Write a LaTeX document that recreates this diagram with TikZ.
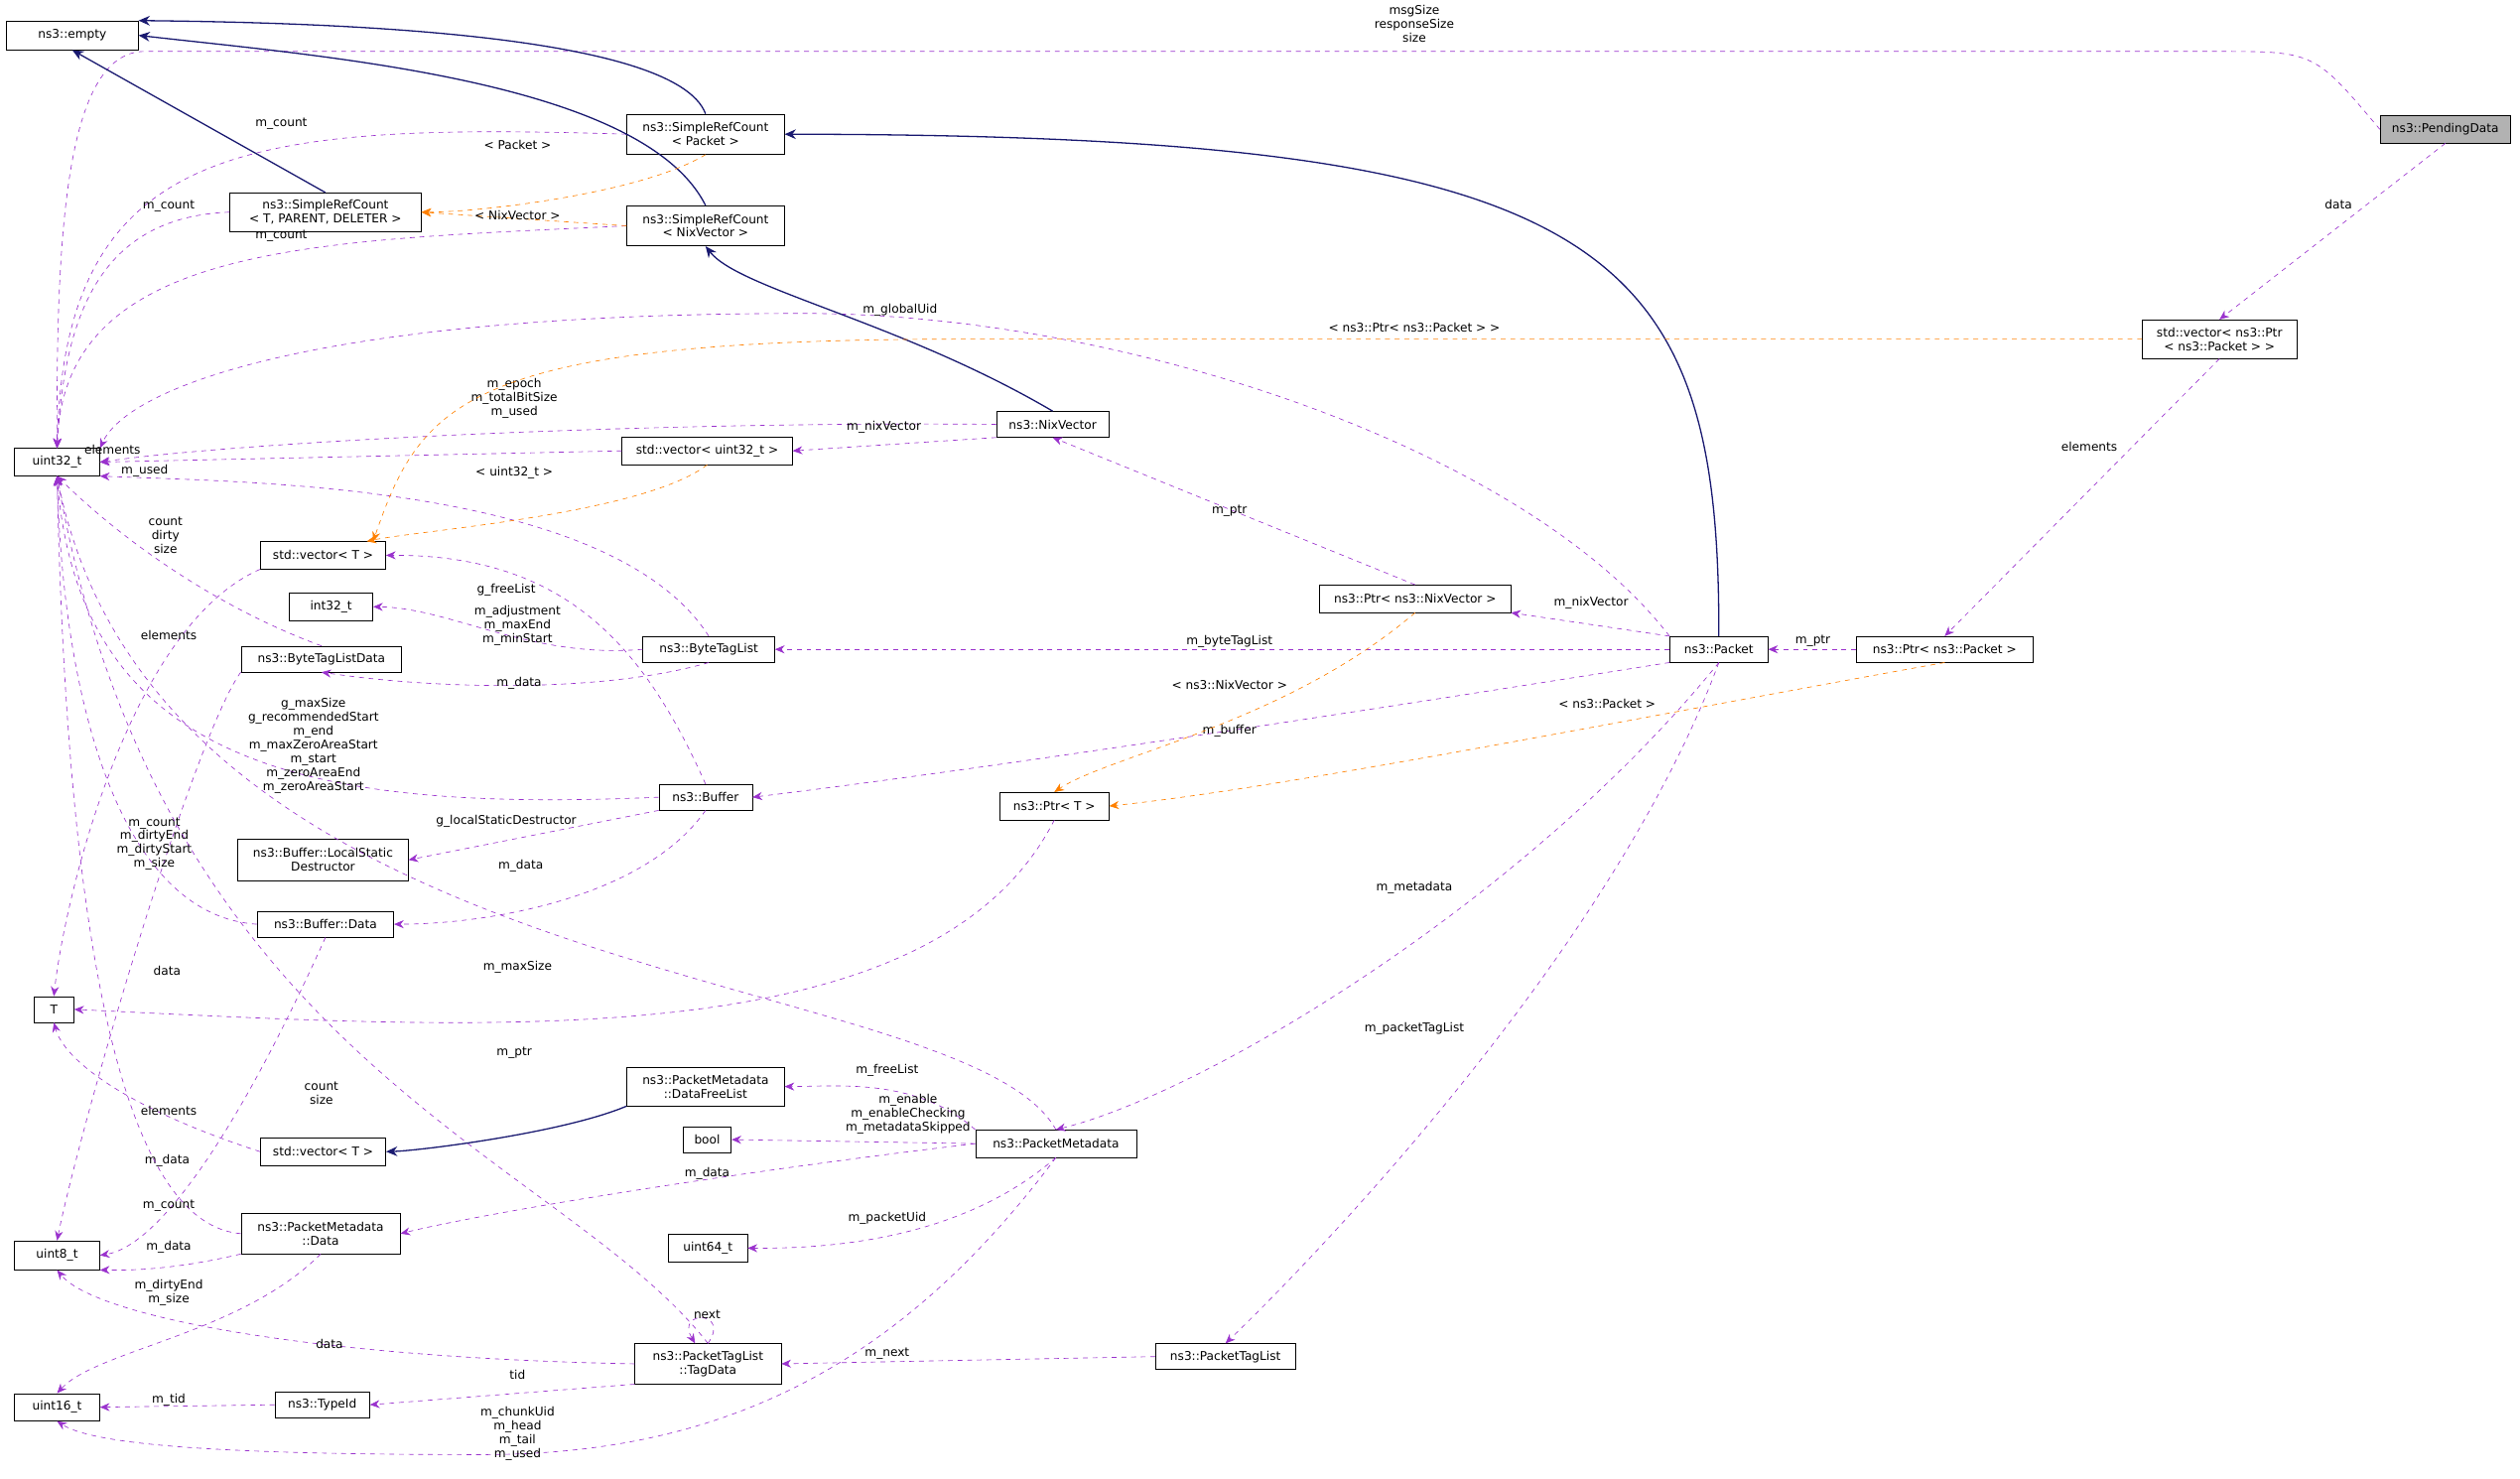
\documentclass[tikz,border=0pt]{standalone}
\usepackage{fontspec}
\setmainfont{DejaVu Sans}
\usetikzlibrary{arrows.meta}
\begin{document}
\begin{tikzpicture}[x=1pt,y=-1pt,
 box/.style={draw,rectangle,inner sep=1pt,align=center,font=\fontsize{7.5}{8.6}\selectfont},
 lbl/.style={inner sep=0pt,align=center,font=\fontsize{7.5}{8.6}\selectfont},
 mem/.style={draw={rgb,255:red,154;green,50;blue,205},dashed,-{Stealth[length=6pt,width=5pt]}},
 inh/.style={draw={rgb,255:red,25;green,25;blue,112},thick,-{Stealth[length=7pt,width=6pt]}},
 tpl/.style={draw=orange,dashed,-{Stealth[length=6pt,width=5pt]}}]
\useasboundingbox (0,0) rectangle (1568,920);
\newcommand{\bx}[6]{\node[box,minimum width=#3-#2,minimum height=#5-#4] (#1) at ({(#2+#3)/2},{(#4+#5)/2}) {#6};}
\bx{empty}{4}{86}{13}{31}{ns3::empty}
\bx{u32}{9}{62}{279}{296}{uint32\_t}
\bx{i32}{180}{232}{369}{386}{int32\_t}
\bx{u8}{9}{62}{772}{790}{uint8\_t}
\bx{u16}{9}{62}{867}{884}{uint16\_t}
\bx{T}{21}{46}{620}{636}{T}
\node[box,fill=gray!60,minimum width=81,minimum height=17] (pd) at (1521.5,80.5) {ns3::PendingData};
\bx{srcp}{390}{488}{71}{96}{ns3::SimpleRefCount\\< Packet >}
\bx{srct}{143}{262}{120}{144}{ns3::SimpleRefCount\\< T, PARENT, DELETER >}
\bx{srcn}{390}{488}{128}{153}{ns3::SimpleRefCount\\< NixVector >}
\bx{vecpp}{1333}{1429}{199}{223}{std::vector< ns3::Ptr\\< ns3::Packet > >}
\bx{nix}{620}{690}{256}{272}{ns3::NixVector}
\bx{vecu}{387}{493}{272}{289}{std::vector< uint32\_t >}
\bx{vect}{162}{240}{337}{354}{std::vector< T >}
\bx{btld}{150}{250}{402}{418}{ns3::ByteTagListData}
\bx{btl}{400}{482}{396}{412}{ns3::ByteTagList}
\bx{pnix}{821}{940}{364}{381}{ns3::Ptr< ns3::NixVector >}
\bx{pkt}{1039}{1100}{396}{412}{ns3::Packet}
\bx{ppkt}{1155}{1265}{396}{412}{ns3::Ptr< ns3::Packet >}
\bx{buf}{410}{468}{488}{504}{ns3::Buffer}
\bx{pt}{622}{690}{493}{510}{ns3::Ptr< T >}
\bx{lsd}{148}{254}{522}{548}{ns3::Buffer::LocalStatic\\Destructor}
\bx{bufd}{160}{245}{567}{583}{ns3::Buffer::Data}
\bx{dfl}{390}{488}{664}{688}{ns3::PacketMetadata\\::DataFreeList}
\bx{bool}{425}{455}{701}{717}{bool}
\bx{pm}{607}{707}{703}{720}{ns3::PacketMetadata}
\bx{vect2}{162}{240}{708}{725}{std::vector< T >}
\bx{pmd}{150}{249}{755}{780}{ns3::PacketMetadata\\::Data}
\bx{u64}{416}{465}{768}{785}{uint64\_t}
\bx{ptl}{719}{806}{836}{852}{ns3::PacketTagList}
\bx{td}{395}{486}{836}{861}{ns3::PacketTagList\\::TagData}
\bx{tid}{171}{230}{866}{882}{ns3::TypeId}
% purple
\draw[mem] (pd.west) .. controls (1440,32) .. (1380,32) -- (90,32) .. controls (40,32) and (35,150) .. (u32.north);
\node[lbl] (l1) at (880,15) {msgSize\\responseSize\\size};
\draw[mem] (pd.south) -- (vecpp.north); \node[lbl] (l2) at (1455,127) {data};
\draw[mem] (vecpp.south) -- (ppkt.north); \node[lbl] (l3) at (1300,278) {elements};
\draw[mem] (srcp.west) .. controls (150,76) and (40,90) .. (u32.north); \node[lbl] (l4) at (175,77) {m\_count};
\draw[mem] (srct.west) .. controls (60,135) and (40,200) .. (u32.north); \node[lbl] (l5) at (105,128) {m\_count};
\draw[mem] (srcn.west) .. controls (200,150) and (40,150) .. (u32.north); \node[lbl] (l6) at (175,147) {m\_count};
\draw[mem] (pkt.north west) .. controls (950,280) and (700,195) .. (500,195) .. controls (200,195) and (80,240) .. (u32.north east); \node[lbl] (l7) at (560,193) {m\_globalUid};
\draw[mem] (nix.west) .. controls (400,262) and (150,275) .. (u32.east); \node[lbl] (l8) at (320,248) {m\_epoch\\m\_totalBitSize\\m\_used};
\draw[mem] (nix.south west) -- (vecu.east); \node[lbl] (l9) at (550,266) {m\_nixVector};
\draw[mem] (vecu.west) -- (u32.east); \node[lbl] (l10) at (70,280) {elements};
\draw[mem] (btl.north) .. controls (380,300) and (150,300) .. (u32.south east); \node[lbl] (l11) at (90,293) {m\_used};
\draw[mem] (btld.north) .. controls (140,380) and (80,340) .. (u32.south); \node[lbl] (l12) at (103,333) {count\\dirty\\size};
\draw[mem] (vect.south west) .. controls (80,390) and (40,560) .. (T.north); \node[lbl] (l13) at (105,395) {elements};
\draw[mem] (pnix.north) -- (nix.south); \node[lbl] (l14) at (765,318) {m\_ptr};
\draw[mem] (pkt.north west) -- (pnix.south east); \node[lbl] (l15) at (990,375) {m\_nixVector};
\draw[mem] (pkt.west) -- (btl.east); \node[lbl] (l16) at (765,399) {m\_byteTagList};
\draw[mem] (ppkt.west) -- (pkt.east); \node[lbl] (l17) at (1128,399) {m\_ptr};
\draw[mem] (btl.west) .. controls (330,410) and (280,378) .. (i32.east); \node[lbl] (l18) at (322,389) {m\_adjustment\\m\_maxEnd\\m\_minStart};
\draw[mem] (btl.south) .. controls (380,430) and (280,430) .. (btld.south); \node[lbl] (l19) at (323,425) {m\_data};
\draw[mem] (buf.north) .. controls (400,400) and (350,345) .. (vect.east); \node[lbl] (l20) at (315,367) {g\_freeList};
\draw[mem] (pkt.south west) .. controls (800,450) and (600,480) .. (buf.east); \node[lbl] (l21) at (765,455) {m\_buffer};
\draw[mem] (buf.west) .. controls (200,505) and (50,480) .. (u32.south); \node[lbl] (l22) at (195,464) {g\_maxSize\\g\_recommendedStart\\m\_end\\m\_maxZeroAreaStart\\m\_start\\m\_zeroAreaEnd\\m\_zeroAreaStart};
\draw[mem] (buf.south west) -- (lsd.east); \node[lbl] (l23) at (315,511) {g\_localStaticDestructor};
\draw[mem] (buf.south) .. controls (400,560) and (300,575) .. (bufd.east); \node[lbl] (l24) at (324,539) {m\_data};
\draw[mem] (btld.south west) .. controls (120,460) and (50,700) .. (u8.north); \node[lbl] (l25) at (104,604) {data};
\draw[mem] (bufd.west) .. controls (80,570) and (40,450) .. (u32.south); \node[lbl] (l26) at (96,525) {m\_count\\m\_dirtyEnd\\m\_dirtyStart\\m\_size};
\draw[mem] (bufd.south) .. controls (150,700) and (100,775) .. (u8.east); \node[lbl] (l27) at (104,722) {m\_data};
\draw[mem] (pkt.south) .. controls (950,560) and (750,680) .. (pm.north); \node[lbl] (l28) at (880,552) {m\_metadata};
\draw[mem] (pt.south) .. controls (580,660) and (300,640) .. (T.east); \node[lbl] (l29) at (320,655) {m\_ptr};
\draw[mem] (pm.north) .. controls (600,600) and (100,620) .. (u32.south); \node[lbl] (l30) at (322,602) {m\_maxSize};
\draw[mem] (pm.north west) .. controls (570,670) and (520,676) .. (dfl.east); \node[lbl] (l31) at (552,666) {m\_freeList};
\draw[mem] (pm.west) -- (bool.east); \node[lbl] (l32) at (565,693) {m\_enable\\m\_enableChecking\\m\_metadataSkipped};
\draw[mem] (pm.west) .. controls (450,730) and (300,755) .. (pmd.east); \node[lbl] (l33) at (440,730) {m\_data};
\draw[mem] (pm.south) .. controls (600,770) and (520,777) .. (u64.east); \node[lbl] (l34) at (552,758) {m\_packetUid};
\draw[mem] (pm.south) .. controls (560,850) and (450,905) .. (300,905) .. controls (150,905) and (60,900) .. (u16.south); \node[lbl] (l35) at (322,892) {m\_chunkUid\\m\_head\\m\_tail\\m\_used};
\draw[mem] (pkt.south) .. controls (1000,600) and (800,800) .. (ptl.north); \node[lbl] (l36) at (880,640) {m\_packetTagList};
\draw[mem] (ptl.west) -- (td.east); \node[lbl] (l37) at (552,842) {m\_next};
\draw[mem] (td.north) .. controls (455,815) and (420,815) .. ([xshift=-8pt]td.north); \node[lbl] (l38) at (440,818) {next};
\draw[mem] (td.north) .. controls (350,720) and (100,660) .. (u32.south); \node[lbl] (l39) at (200,680) {count\\size};
\draw[mem] (td.west) .. controls (200,845) and (60,820) .. (u8.south); \node[lbl] (l40) at (205,836) {data};
\draw[mem] (td.south west) -- (tid.east); \node[lbl] (l41) at (322,855) {tid};
\draw[mem] (tid.west) -- (u16.east); \node[lbl] (l42) at (105,871) {m\_tid};
\draw[mem] (pmd.west) .. controls (60,760) and (40,500) .. (u32.south); \node[lbl] (l43) at (105,750) {m\_count};
\draw[mem] (pmd.south west) .. controls (100,792) and (70,790) .. (u8.south east); \node[lbl] (l44) at (105,776) {m\_data};
\draw[mem] (pmd.south) .. controls (150,830) and (60,840) .. (u16.north); \node[lbl] (l45) at (105,804) {m\_dirtyEnd\\m\_size};
\draw[mem] (vect2.west) .. controls (80,690) and (40,660) .. (T.south); \node[lbl] (l46) at (105,691) {elements};
% blue
\draw[inh] (srcp.north) .. controls (420,20) and (200,14) .. (empty.north east);
\draw[inh] (srct.north) -- (empty.south);
\draw[inh] (srcn.north) .. controls (400,50) and (200,35) .. (empty.east);
\draw[inh] (pkt.north) .. controls (1070,150) and (1000,84) .. (srcp.east);
\draw[inh] (nix.north) .. controls (560,200) and (460,180) .. (srcn.south);
\draw[inh] (dfl.south west) .. controls (350,705) and (260,716) .. (vect2.east);
% orange
\draw[tpl] (srcp.south) .. controls (400,120) and (300,132) .. (srct.east); \node[lbl] (o1) at (322,90) {< Packet >};
\draw[tpl] (srcn.west) -- (srct.east); \node[lbl] (o2) at (322,134) {< NixVector >};
\draw[tpl] (vecpp.west) -- (600,211) .. controls (290,211) and (262,250) .. ([xshift=-8pt]vect.north east); \node[lbl] (o3) at (880,204) {< ns3::Ptr< ns3::Packet > >};
\draw[tpl] (vecu.south) .. controls (400,320) and (260,330) .. ([xshift=-12pt]vect.north east); \node[lbl] (o4) at (320,294) {< uint32\_t >};
\draw[tpl] (pnix.south) .. controls (800,450) and (690,470) .. (pt.north); \node[lbl] (o5) at (765,426) {< ns3::NixVector >};
\draw[tpl] (ppkt.south) .. controls (1000,450) and (800,490) .. (pt.east); \node[lbl] (o6) at (1000,438) {< ns3::Packet >};
\end{tikzpicture}
\end{document}
